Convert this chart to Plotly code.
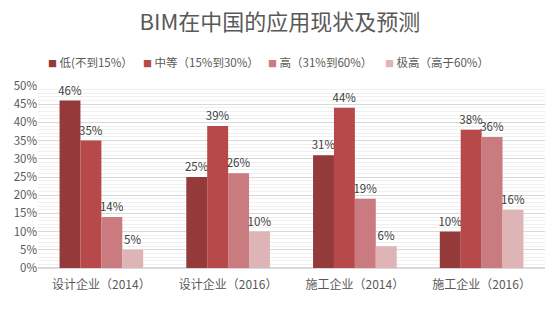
import plotly.graph_objects as go

categories = ["设计企业（2014）", "设计企业（2016）", "施工企业（2014）", "施工企业（2016）"]
series_names = ["低(不到15%）", "中等（15%到30%）", "高（31%到60%）", "极高（高于60%）"]
low = [46, 25, 31, 10]
mid = [35, 39, 44, 38]
high = [14, 26, 19, 36]
very_high = [5, 10, 6, 16]
colors = ["#943A3B", "#B8494B", "#C97B7F", "#DFB4B6"]
legend_x = [46, 141, 266, 383]

font_family = "Noto Sans CJK SC, Noto Sans, sans-serif"
fig = go.Figure()
for name, vals, c in zip(series_names, [low, mid, high, very_high], colors):
    fig.add_trace(go.Bar(
        x=categories, y=vals, name=name, marker=dict(color=c, line=dict(width=0)),
        text=[f"{v}%" for v in vals], textposition="outside", cliponaxis=False,
        constraintext="none",
        textfont=dict(size=11.5, color="#404040", family=font_family),
    ))

annotations = []
for name, c, lx in zip(series_names, colors, legend_x):
    annotations.append(dict(
        text=f"<span style='color:{c};font-size:9px'>■</span> {name}", xref="paper", yref="paper",
        x=(lx - 38) / (560 - 38 - 15), y=1.13, xanchor="left", yanchor="middle", showarrow=False,
        font=dict(size=11.5, color="#595959", family=font_family),
    ))

fig.update_layout(
    width=560, height=322,
    margin=dict(l=38, r=15, t=86, b=54),
    paper_bgcolor="white", plot_bgcolor="white",
    barmode="group", bargap=0.34, bargroupgap=0,
    font=dict(family=font_family, color="#595959"),
    title=dict(text="BIM在中国的应用现状及预测", x=0.5, xanchor="center", y=0.93, yanchor="middle",
               font=dict(size=22, color="#595959", family=font_family)),
    showlegend=False,
    annotations=annotations,
)
fig.update_yaxes(range=[0, 50], dtick=5, ticksuffix="%", gridcolor="#D9D9D9", gridwidth=1,
                 tickfont=dict(size=11.5, color="#595959"), zeroline=True, zerolinecolor="#D9D9D9",
                 minor=dict(dtick=1, showgrid=True, gridcolor="#F0F0F0", gridwidth=1), ticks="")
fig.update_xaxes(tickfont=dict(size=12, color="#595959"), showline=True, linecolor="#D9D9D9",
                 ticklabelstandoff=6)
fig.write_html("out.html")
